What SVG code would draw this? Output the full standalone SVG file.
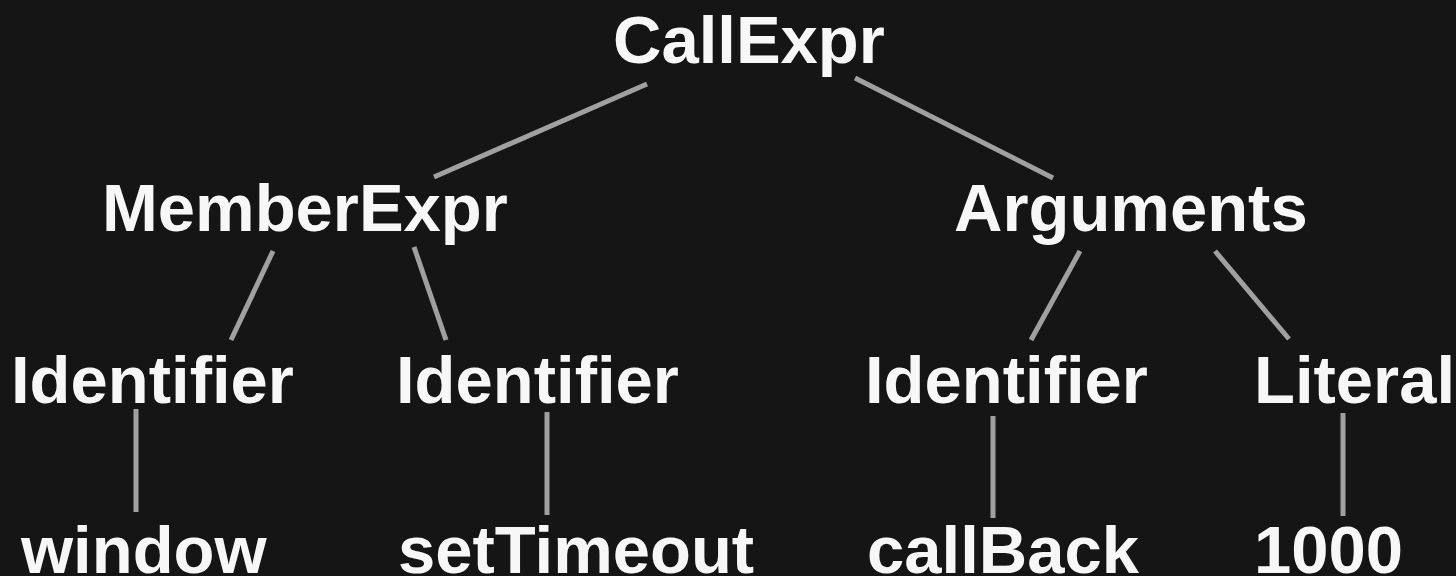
<svg xmlns="http://www.w3.org/2000/svg" width="1456" height="576" viewBox="0 0 1456 576">
<style>
.t{font-family:"Liberation Sans",Arial,sans-serif;font-weight:bold;font-size:67px;fill:#f7f7f7}
.e line{stroke:#a0a0a0;stroke-width:5}
</style>
<rect width="1456" height="576" fill="#151515"/>
<g class="e" id="connectors">
<line x1="647" y1="84" x2="434" y2="177"/>
<line x1="855" y1="78" x2="1053" y2="178"/>
<line x1="273" y1="251" x2="231" y2="340"/>
<line x1="414" y1="247" x2="446" y2="340"/>
<line x1="1080" y1="251" x2="1031" y2="340"/>
<line x1="1215" y1="251" x2="1289" y2="339"/>
<line x1="136" y1="409" x2="136" y2="512"/>
<line x1="547" y1="412" x2="547" y2="515"/>
<line x1="993" y1="416" x2="993" y2="518"/>
<line x1="1343" y1="413" x2="1343" y2="516"/>
</g>
<g id="callexpr"><text class="t" x="613" y="63">CallExpr</text></g>
<g id="memberexpr"><text class="t" x="102" y="231">MemberExpr</text></g>
<g id="arguments"><text class="t" x="954" y="231">Arguments</text></g>
<g id="identifier1"><text class="t" x="11" y="403">Identifier</text></g>
<g id="identifier2"><text class="t" x="396" y="403">Identifier</text></g>
<g id="identifier3"><text class="t" x="865" y="403">Identifier</text></g>
<g id="literal"><text class="t" x="1254" y="403">Literal</text></g>
<g id="window"><text class="t" x="21" y="573">window</text></g>
<g id="settimeout"><text class="t" x="398" y="573">setTimeout</text></g>
<g id="callback"><text class="t" x="867" y="573">callBack</text></g>
<g id="n1000"><text class="t" x="1254" y="573">1000</text></g>
</svg>
